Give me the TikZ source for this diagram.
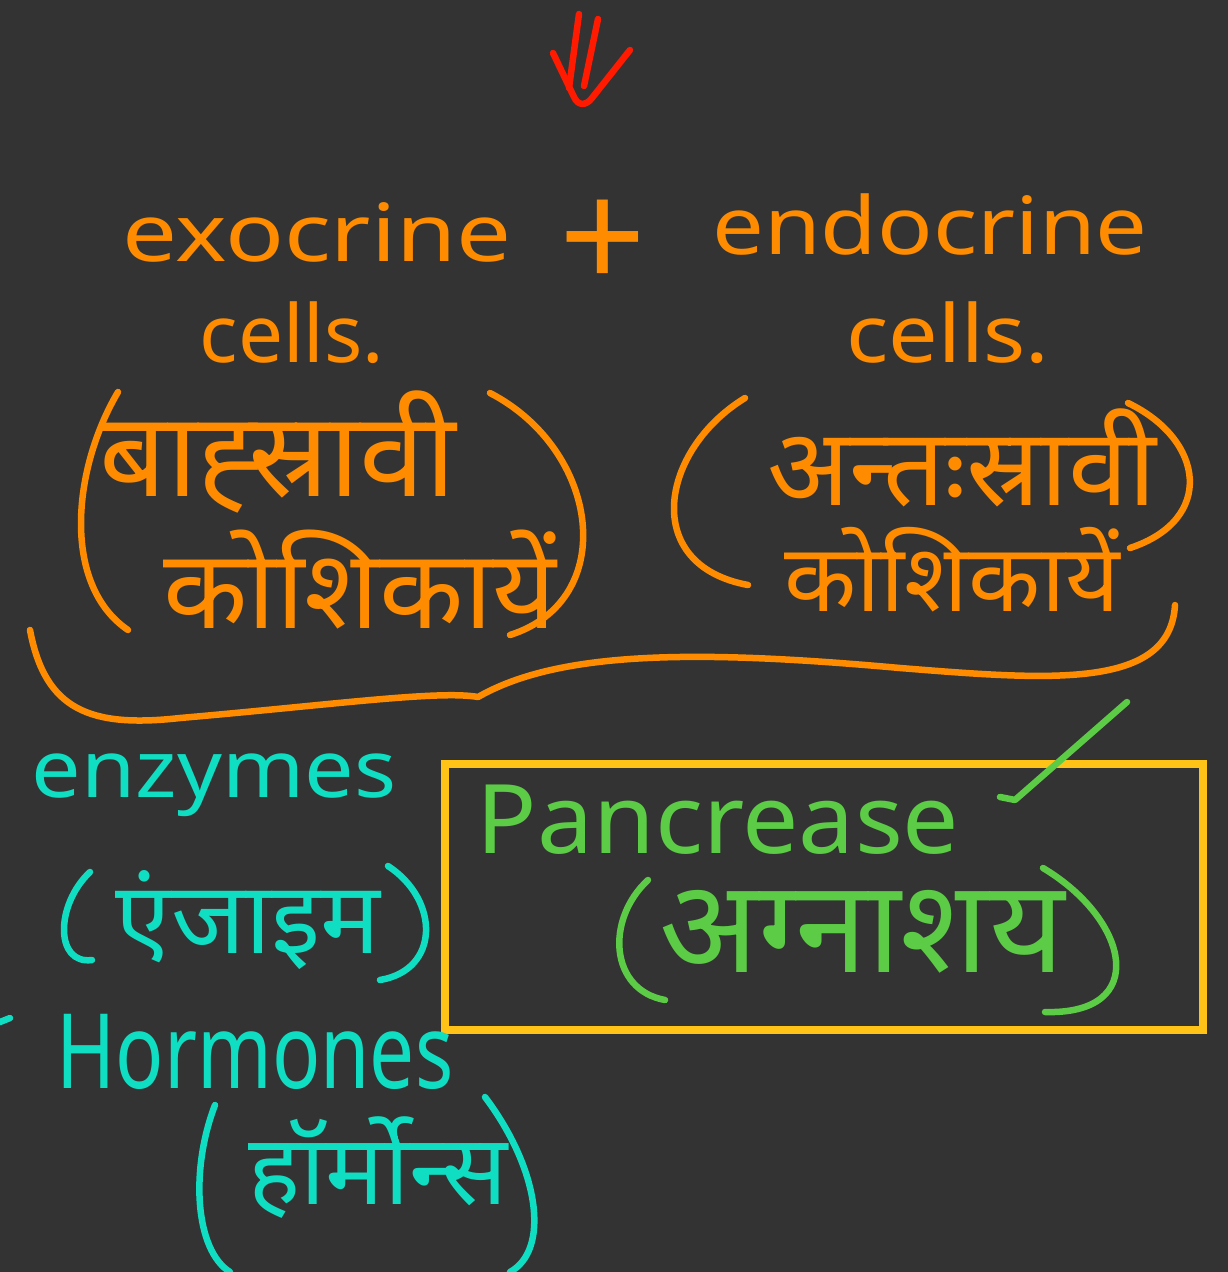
\documentclass[tikz,border=0pt]{standalone}
\usepackage{fontspec}
\setmainfont{Noto Sans}
\newfontfamily\deva[Script=Devanagari]{Noto Sans}
\usetikzlibrary{positioning}
\definecolor{board}{HTML}{333333}
\definecolor{chalkorange}{HTML}{FF8C00}
\definecolor{chalkteal}{HTML}{10DEC3}
\definecolor{chalkgreen}{HTML}{5CCB45}
\definecolor{chalkyellow}{HTML}{FFC216}
\definecolor{chalkred}{HTML}{FF1A00}
\tikzset{
  ink/.style={line width=6.5pt, line cap=round, line join=round},
  word/.style={inner sep=0pt, transform shape, font=\fontsize{80}{90}\selectfont},
  hword/.style={inner sep=0pt, font=\deva\fontsize{#1}{#1}\selectfont},
  hword/.default=110,
}
\begin{document}
\begin{tikzpicture}[x=1pt,y=-1pt]
  \fill[board] (0,0) rectangle (1228,1272);
  \useasboundingbox (0,0) rectangle (1228,1272);

  % red arrow at top
  \draw[ink, chalkred] (579,14) -- (569,88);
  \draw[ink, chalkred] (598,19) -- (584,86);
  \draw[ink, chalkred] (553,53) -- (574,97) .. controls (578,106) and (586,106) .. (592,98) -- (630,50);

  % exocrine + endocrine
  \node[word, xscale=1.22, text=chalkorange] (exo) at (317,232) {exocrine};
  \node[word, scale=1.9, text=chalkorange] (plus) at (603,245) {+};
  \node[word, xscale=1.15, text=chalkorange] (endo) at (930,224) {endocrine};
  \node[word, text=chalkorange] (exocells) at (292,333) {cells.};
  \node[word, xscale=1.1, text=chalkorange] (endocells) at (948,333) {cells.};

  % hindi names of the cells
  \node[hword=118, text=chalkorange] (exohi) at (278,452) {बाह्स्रावी};
  \node[hword=110, text=chalkorange] (exohi2) at (360,580) {कोशिकायें};
  \node[hword=108, text=chalkorange] (endohi) at (962,458) {अन्तःस्रावी};
  \node[hword=94, text=chalkorange] (endohi2) at (952,570) {कोशिकायें};
  \draw[ink, chalkorange] (118,392) .. controls (72,470) and (62,585) .. (128,630);
  \draw[ink, chalkorange] (490,393) .. controls (600,450) and (620,600) .. (510,635);
  \draw[ink, chalkorange] (745,398) .. controls (660,450) and (640,565) .. (748,585);
  \draw[ink, chalkorange] (1128,403) .. controls (1205,440) and (1215,520) .. (1130,548);

  % brace under both
  \draw[ink, chalkorange] (30,630) .. controls (45,710) and (90,728) .. (180,718)
    .. controls (330,705) and (440,690) .. (478,697)
    .. controls (560,650) and (700,650) .. (900,668)
    .. controls (1050,680) and (1170,690) .. (1175,605);

  % pancreas box
  \draw[chalkyellow, line width=8pt] (445,764) rectangle (1203,1030);
  \draw[ink, chalkgreen] (1000,797) -- (1015,800) -- (1127,702);
  \node[word, xscale=1.25, yscale=1.2, text=chalkgreen] (pan) at (718,820) {Pancrease};
  \node[hword=130, text=chalkgreen] (panhi) at (862,932) {अग्नाशय};
  \draw[ink, chalkgreen] (648,880) .. controls (605,920) and (610,990) .. (665,1000);
  \draw[ink, chalkgreen] (1043,868) .. controls (1130,920) and (1150,1015) .. (1045,1012);

  % enzymes and hormones
  \node[word, xscale=1.1, text=chalkteal] (enz) at (214,785) {enzymes};
  \node[hword=100, text=chalkteal] (enzhi) at (248,920) {एंजाइम};
  \draw[ink, chalkteal] (90,872) .. controls (55,905) and (55,965) .. (92,960);
  \draw[ink, chalkteal] (388,866) .. controls (440,900) and (440,970) .. (380,980);
  \draw[ink, chalkteal] (0,1022) -- (10,1018);
  \node[word, yscale=1.3, text=chalkteal] (hor) at (255,1052) {Hormones};
  \node[hword=98, text=chalkteal] (horhi) at (378,1168) {हॉर्मोन्स};
  \draw[ink, chalkteal] (215,1105) .. controls (190,1170) and (195,1250) .. (230,1272);
  \draw[ink, chalkteal] (485,1097) .. controls (540,1170) and (550,1250) .. (510,1272);
\end{tikzpicture}
\end{document}
